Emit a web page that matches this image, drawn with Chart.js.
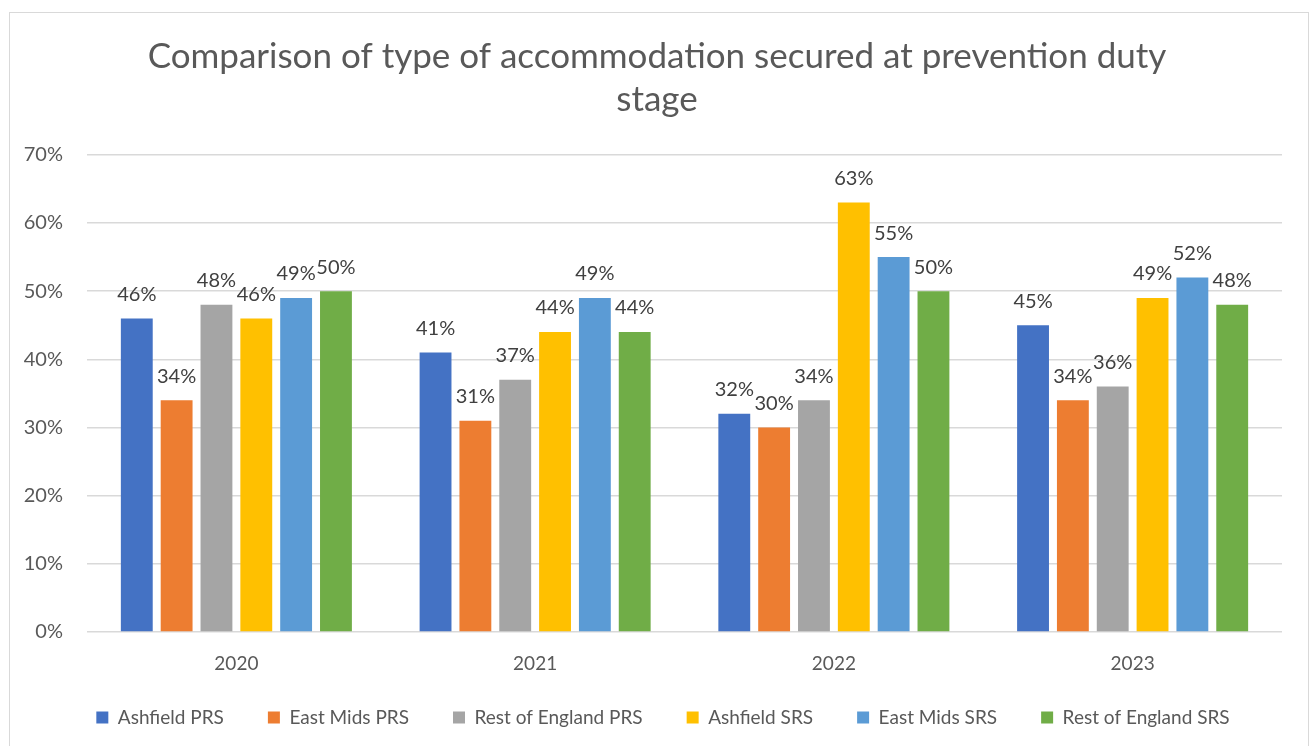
<!DOCTYPE html>
<html>
<head>
<meta charset="utf-8">
<script src="https://cdn.jsdelivr.net/npm/chart.js@4"></script>
<style>
  html, body { margin: 0; padding: 0; background: #fff; }
  #frame {
    position: absolute; left: 9px; top: 12px;
    width: 1300px; height: 740px;
    border: 1px solid #d9d9d9; box-sizing: border-box;
  }
  #chartBox { position: absolute; left: 0; top: 0; width: 1298px; height: 734px; }
</style>
</head>
<body>
<div id="frame"><div id="chartBox"><canvas id="mainChart"></canvas></div></div>
<script>
const years = ['2020', '2021', '2022', '2023'];
const seriesNames = ['Ashfield PRS', 'East Mids PRS', 'Rest of England PRS', 'Ashfield SRS', 'East Mids SRS', 'Rest of England SRS'];
const ashfieldPRS = [46, 41, 32, 45];
const eastMidsPRS = [34, 31, 30, 34];
const restEnglandPRS = [48, 37, 34, 36];
const ashfieldSRS = [46, 44, 63, 49];
const eastMidsSRS = [49, 49, 55, 52];
const restEnglandSRS = [50, 44, 50, 48];
const yTicks = [0, 10, 20, 30, 40, 50, 60, 70];

const seriesValues = [ashfieldPRS, eastMidsPRS, restEnglandPRS, ashfieldSRS, eastMidsSRS, restEnglandSRS];
const colours = ['#4472c4', '#ed7d31', '#a5a5a5', '#ffc000', '#5b9bd5', '#70ad47'];

const FONT = 'Lato, Calibri, "Open Sans", sans-serif';
const GREY = '#595959';

// draws the "46%" labels over each bar
const barLabels = {
    id: 'barLabels',
    afterDatasetsDraw(chart) {
        const ctx = chart.ctx;
        ctx.save();
        ctx.font = '20px ' + FONT;
        ctx.fillStyle = '#404040';
        ctx.textAlign = 'center';
        ctx.textBaseline = 'middle';
        chart.data.datasets.forEach((ds, i) => {
            chart.getDatasetMeta(i).data.forEach((bar, j) => {
                ctx.fillText(ds.data[j] + '%', bar.x, bar.y - 24);
            });
        });
        ctx.restore();
    }
};

// legend padding is wide for horizontal spacing, so trim its height back,
// then nudge title and legend to sit where the original has them
const layoutTweaks = {
    id: 'layoutTweaks',
    beforeInit(chart) {
        const fit = chart.legend.fit;
        chart.legend.fit = function () {
            fit.call(this);
            this.height = 69;
        };
    },
    afterLayout(chart) {
        const lg = chart.legend;
        lg.top -= 14; lg.bottom -= 14;
        lg.left += 17; lg.right += 17;
        const tb = chart.titleBlock;
        tb.left += 11; tb.right += 11;
    }
};

new Chart(document.getElementById('mainChart').getContext('2d'), {
    type: 'bar',
    data: {
        labels: years,
        datasets: seriesNames.map((name, i) => ({
            label: name,
            data: seriesValues[i],
            backgroundColor: colours[i],
            borderWidth: 0,
            categoryPercentage: 0.8,
            barPercentage: 0.8
        }))
    },
    options: {
        responsive: true,
        maintainAspectRatio: false,
        animation: false,
        layout: { padding: { left: 0, right: 26, top: 8, bottom: 0 } },
        plugins: {
            title: {
                display: true,
                text: ['Comparison of type of accommodation secured at prevention duty', 'stage'],
                color: GREY,
                font: { family: FONT, size: 35, weight: 'normal', lineHeight: 1.24 },
                padding: { top: 14, bottom: 33 }
            },
            legend: {
                position: 'bottom',
                labels: {
                    color: GREY,
                    font: { family: FONT, size: 19 },
                    boxWidth: 12,
                    boxHeight: 12,
                    padding: 44
                }
            },
            tooltip: { enabled: false }
        },
        scales: {
            x: {
                afterFit: (axis) => { axis.height = 46; },
                grid: { display: false },
                border: { display: false },
                ticks: { color: GREY, font: { family: FONT, size: 19 }, padding: 12 }
            },
            y: {
                min: 0,
                max: 70,
                afterBuildTicks: (axis) => { axis.ticks = yTicks.map(v => ({ value: v })); },
                afterFit: (axis) => { axis.width = 77; },
                grid: { color: '#d9d9d9', lineWidth: 1.5, drawTicks: false },
                border: { display: false },
                ticks: {
                    color: GREY,
                    font: { family: FONT, size: 20 },
                    padding: 24,
                    callback: (v) => v + '%'
                }
            }
        }
    },
    plugins: [barLabels, layoutTweaks]
});
</script>
</body>
</html>
